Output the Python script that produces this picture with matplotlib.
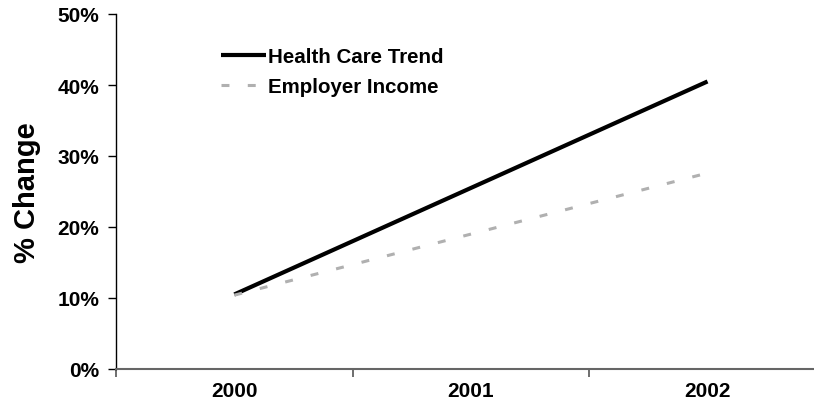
import matplotlib
matplotlib.use('Agg')
import matplotlib.pyplot as plt
from matplotlib.ticker import FuncFormatter

# --- data ---
years = ['2000', '2001', '2002']
health_care = [10.5, 25.5, 40.5]   # % change
employer = [10.4, 19.0, 27.6]      # % change

plt.rcParams['font.family'] = ['Liberation Sans', 'DejaVu Sans']
plt.rcParams['font.weight'] = 'bold'

fig = plt.figure(figsize=(8.14, 4.14), dpi=100)
ax = fig.add_axes([116 / 814, 44 / 414, 1 - 116 / 814, 355 / 414])

x = list(range(len(years)))
ax.plot(x, health_care, color='black', lw=3, solid_capstyle='butt',
        label='Health Care Trend')
ax.plot(x, employer, color='#b0b0b0', lw=2.2, linestyle=(0, (2.6, 6.0)),
        label='Employer Income')

ax.set_yticks(range(0, 51, 10))
ax.yaxis.set_major_formatter(FuncFormatter(lambda v, p: f'{v:.0f}%'))
ax.set_xticks([-0.5, 0.5, 1.5, 2.5], minor=False)
ax.set_xticklabels([])
ax.set_xticks(x, minor=True)
ax.set_xticklabels(years, minor=True)
# limits after ticks, so the ticks do not widen the view
ax.set_xlim(-0.5, 2.45)
ax.set_ylim(0, 50)
ax.tick_params(axis='x', which='minor', length=0, pad=9, labelsize=15)
ax.tick_params(axis='x', which='major', length=6, width=1.2, color='#555555',
               direction='out')
ax.tick_params(axis='y', length=6, width=1, direction='out', labelsize=15,
               pad=6)
for lbl in ax.get_xticklabels(minor=True) + ax.get_yticklabels():
    lbl.set_fontweight('bold')

ax.spines['top'].set_visible(False)
ax.spines['right'].set_visible(False)
ax.spines['bottom'].set_color('#666666')
ax.spines['bottom'].set_linewidth(1.5)
ax.spines['left'].set_linewidth(1)

ax.set_ylabel('% Change', fontsize=21, fontweight='bold', labelpad=12)

leg = ax.legend(loc='upper left', bbox_to_anchor=(0.138, 0.93), frameon=False,
                fontsize=14.8, handlelength=2.2, handletextpad=0.1,
                labelspacing=0.55, borderaxespad=0)
for t in leg.get_texts():
    t.set_fontweight('bold')

fig.savefig('out.png', dpi=100)
